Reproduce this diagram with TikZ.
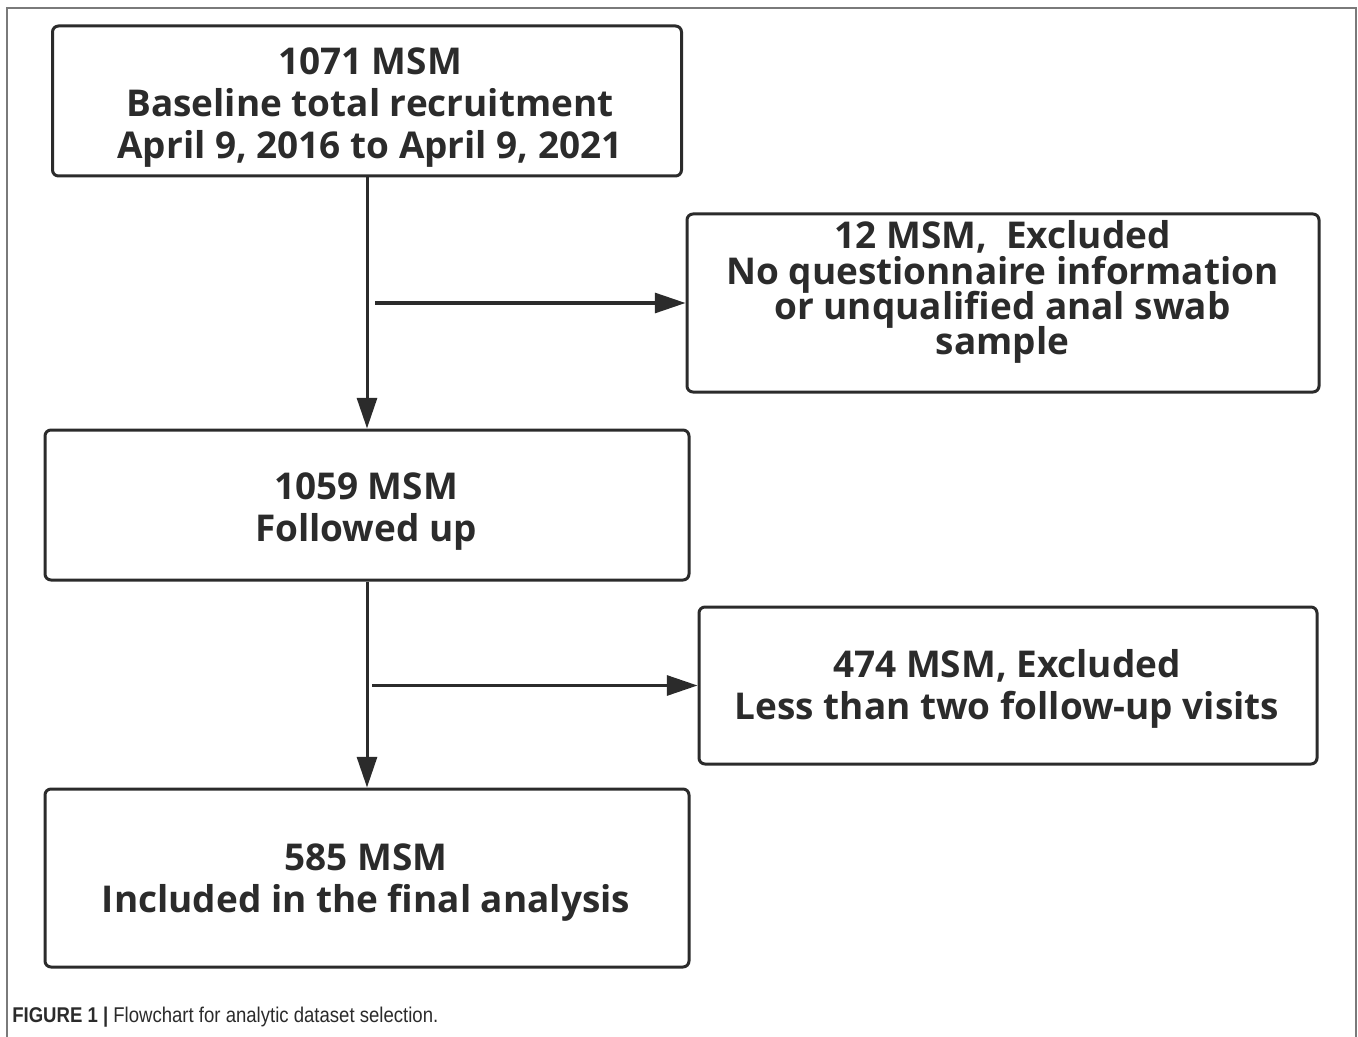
\documentclass[tikz,border=0pt]{standalone}
\usepackage{fontspec}
\setmainfont{Liberation Sans}
\newfontfamily\boxfont{Open Sans}
\usetikzlibrary{arrows.meta}
\definecolor{ink}{HTML}{2B2B2B}
\definecolor{framegray}{HTML}{7A7A7A}
\newcommand\mytightlines{\lineskiplimit=-100pt\relax\lineskip=0pt\relax}
\tikzset{
  box/.style={draw=ink, line width=2.25pt, rounded corners=4.5pt, inner sep=0pt},
  boxtext/.style={align=center, text=ink, inner sep=0pt,
    font=\boxfont\bfseries\fontsize{27.7}{31.5}\selectfont},
  tighttext/.style={boxtext, font=\boxfont\bfseries\fontsize{27.7}{26.3}\selectfont\mytightlines},
  arr/.style={draw=ink, line width=2.25pt, -{Triangle[length=23pt, width=15pt]}},
}
\begin{document}
\begin{tikzpicture}[x=0.75pt, y=-0.75pt]
\useasboundingbox (0,0) rectangle (1358,1037);
\draw[framegray, line width=1.5pt] (7,1037) -- (7,8) -- (1356,8) -- (1356,1037);
\node[box, minimum width=629*0.75pt, minimum height=150*0.75pt] (b1) at (367,101) {};
\node[boxtext] (t1) at (370,108)
  {1071 MSM\\Baseline total recruitment\\April 9, 2016 to April 9, 2021};
\node[box, minimum width=632*0.75pt, minimum height=178*0.75pt] (b2) at (1003,303) {};
\node[tighttext] (t2) at (1002.5,292)
  {12 MSM,\ \ Excluded\\No questionnaire information\\or unqualified anal swab\\sample};
\node[box, minimum width=644*0.75pt, minimum height=150*0.75pt] (b3) at (367,505) {};
\node[boxtext] (t3) at (366,512) {1059 MSM\\Followed up};
\node[box, minimum width=618*0.75pt, minimum height=157*0.75pt] (b4) at (1008,685.5) {};
\node[boxtext] (t4) at (1007,689) {474 MSM, Excluded\\Less than two follow-up visits};
\node[box, minimum width=644*0.75pt, minimum height=178*0.75pt] (b5) at (367,878) {};
\node[boxtext] (t5) at (366,883) {585 MSM\\Included in the final analysis};
\draw[arr] (b1.south) -- (b3.north);
\draw[arr] (b3.south) -- (b5.north);
\coordinate (s1) at (375,303);
\coordinate (s2) at (372,685.5);
\draw[arr] (s1) -- (s1 -| b2.west);
\draw[arr] (s2) -- (s2 -| b4.west);
\node[anchor=west, inner sep=0pt, text=ink] (cap) at (12,1017)
  {\scalebox{0.87}[1]{\fontsize{16}{19}\selectfont\textbf{FIGURE 1 |} Flowchart for analytic dataset selection.}};
\end{tikzpicture}
\end{document}
